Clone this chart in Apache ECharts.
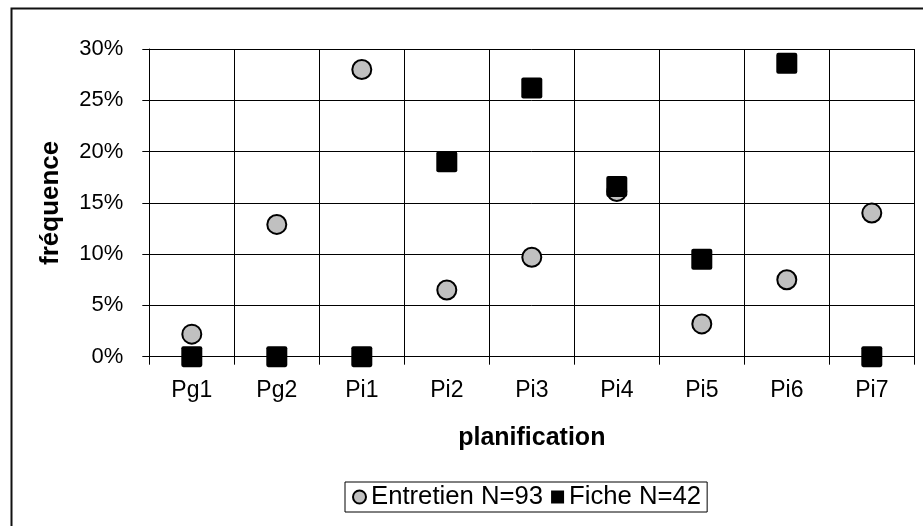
<!DOCTYPE html>
<html>
<head>
<meta charset="utf-8">
<script src="https://cdn.jsdelivr.net/npm/echarts@6/dist/echarts.min.js"></script>
<style>html,body{margin:0;padding:0;background:#fff;}#c{width:923px;height:526px;}</style>
</head>
<body>
<div id="c"></div>
<script>
const categories = ['Pg1','Pg2','Pi1','Pi2','Pi3','Pi4','Pi5','Pi6','Pi7'];
const entretien = [2.2, 12.9, 28.0, 6.5, 9.7, 16.1, 3.2, 7.5, 14.0];
const fiche = [0, 0, 0, 19.0, 26.2, 16.6, 9.5, 28.6, 0];
const seriesNames = ['Entretien N=93', 'Fiche N=42'];
const yTicks = { min: 0, max: 30, interval: 5 };

const FONT = '"Liberation Sans", Arial, sans-serif';
const squarePath = 'path://M1,0 H9 Q10,0 10,1 V9 Q10,10 9,10 H1 Q0,10 0,9 V1 Q0,0 1,0 Z';

const chart = echarts.init(document.getElementById('c'), null, {renderer: 'canvas'});
chart.setOption({
  animation: false,
  backgroundColor: '#fff',
  graphic: [{
    type: 'rect', left: 9, top: 6, z: -10, silent: true,
    shape: {x: 0, y: 0, width: 1200, height: 1200},
    style: {fill: 'none', stroke: '#111', lineWidth: 2}
  }],
  grid: {left: 149.3, right: 8.7, top: 49, bottom: 169.3, containLabel: false},
  legend: {
    left: 345, top: 482,
    padding: [2, 6, 2, 7],
    itemGap: 8, itemWidth: 13, itemHeight: 13,
    borderColor: '#000', borderWidth: 1,
    textStyle: {fontFamily: FONT, fontSize: 25.7, color: '#000'},
    data: [
      {name: seriesNames[0], icon: 'circle'},
      {name: seriesNames[1], icon: 'rect'}
    ]
  },
  xAxis: {
    type: 'category', data: categories, boundaryGap: true,
    name: 'planification', nameLocation: 'middle', nameGap: 69,
    nameTextStyle: {fontFamily: FONT, fontSize: 25, fontWeight: 'bold', color: '#000'},
    axisLine: {show: true, lineStyle: {color: '#000', width: 1}},
    axisTick: {show: true, length: 8, inside: false, lineStyle: {color: '#000'}},
    axisLabel: {fontFamily: FONT, fontSize: 23, color: '#000', margin: 22},
    splitLine: {show: true, lineStyle: {color: '#000', width: 1}}
  },
  yAxis: {
    type: 'value', min: yTicks.min, max: yTicks.max, interval: yTicks.interval,
    name: 'fréquence', nameLocation: 'middle', nameGap: 85, nameRotate: 90,
    nameTextStyle: {fontFamily: FONT, fontSize: 26, fontWeight: 'bold', color: '#000'},
    axisLine: {show: true, lineStyle: {color: '#000', width: 1}},
    axisTick: {show: true, length: 7, inside: false, lineStyle: {color: '#000'}},
    axisLabel: {fontFamily: FONT, fontSize: 22, color: '#000', margin: 26, formatter: '{value}%'},
    splitLine: {show: true, lineStyle: {color: '#000', width: 1}}
  },
  series: [
    {
      name: seriesNames[0], type: 'scatter', data: entretien, clip: false,
      symbol: 'circle', symbolSize: 19, z: 3,
      itemStyle: {color: '#c0c0c0', borderColor: '#000', borderWidth: 2, opacity: 1}
    },
    {
      name: seriesNames[1], type: 'scatter', data: fiche, clip: false,
      symbol: squarePath, symbolSize: 21, z: 4,
      itemStyle: {color: '#000', borderWidth: 0, opacity: 1}
    }
  ]
});
</script>
</body>
</html>
